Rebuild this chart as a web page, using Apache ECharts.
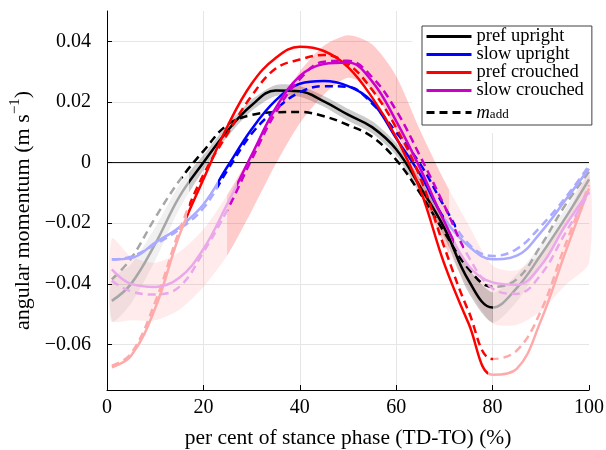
<!DOCTYPE html>
<html>
<head>
<meta charset="utf-8">
<script src="https://cdn.jsdelivr.net/npm/echarts@6/dist/echarts.min.js"></script>
<style>
html, body { margin: 0; padding: 0; background: #fff; }
#chart { width: 606px; height: 450px; }
</style>
</head>
<body>
<div id="chart"></div>
<script>
// per cent of stance phase (x of every curve)
const stance = [1, 5, 10, 15, 20, 25, 30, 35, 40, 45, 50, 55, 60, 65, 70, 75, 80, 85, 90, 95, 100]

// angular momentum (m/s), measured and m_add
const prefUpright = [-0.0456, -0.040, -0.0268, -0.0113, 0, 0.0105, 0.0189, 0.0238, 0.0235, 0.0202, 0.0158, 0.0117, 0.0044, -0.0081, -0.0216, -0.0388, -0.0478, -0.0414, -0.0305, -0.0185, -0.0055]
const prefUprightAdd = [-0.0385, -0.0316, -0.0182, -0.006, 0.0038, 0.0125, 0.0157, 0.0166, 0.0167, 0.0153, 0.0124, 0.0085, 0.0009, -0.0102, -0.023, -0.035, -0.041, -0.0385, -0.0274, -0.0142, -0.003]
const slowUpright = [-0.0319, -0.0315, -0.0264, -0.0213, -0.0138, -0.0013, 0.011, 0.0205, 0.026, 0.0269, 0.0252, 0.020, 0.008, -0.004, -0.0185, -0.0275, -0.0319, -0.0307, -0.023, -0.0126, -0.002]
const slowUprightAdd = [-0.032, -0.031, -0.027, -0.022, -0.015, -0.0025, 0.0095, 0.0175, 0.0232, 0.0252, 0.025, 0.0195, 0.010, -0.0005, -0.0145, -0.0268, -0.0308, -0.0285, -0.021, -0.0118, -0.001]
const prefCrouched = [-0.0675, -0.0637, -0.048, -0.024, -0.0055, 0.012, 0.026, 0.0345, 0.0382, 0.0368, 0.0315, 0.0215, 0.0083, -0.009, -0.0335, -0.053, -0.070, -0.068, -0.0522, -0.030, -0.0085]
const prefCrouchedAdd = [-0.067, -0.063, -0.046, -0.0225, -0.004, 0.0095, 0.022, 0.031, 0.034, 0.0355, 0.0325, 0.024, 0.0115, -0.005, -0.028, -0.049, -0.0648, -0.062, -0.049, -0.0275, -0.0075]
const slowCrouched = [-0.0352, -0.040, -0.041, -0.038, -0.0285, -0.0135, 0.0025, 0.018, 0.0285, 0.0325, 0.033, 0.0268, 0.0137, -0.002, -0.0195, -0.034, -0.0395, -0.0403, -0.034, -0.021, -0.0095]
const slowCrouchedAdd = [-0.039, -0.0425, -0.0435, -0.041, -0.0295, -0.0155, 0.001, 0.0165, 0.0275, 0.0333, 0.0336, 0.0282, 0.0172, 0.002, -0.0142, -0.031, -0.0415, -0.0433, -0.037, -0.0235, -0.010]

// spread bands (centre and half width)
const prefUprightSd = [0.007, 0.0065, 0.0055, 0.004, 0.0025, 0.002, 0.0018, 0.0018, 0.0018, 0.0018, 0.002, 0.002, 0.002, 0.0025, 0.003, 0.004, 0.005, 0.0045, 0.0035, 0.003, 0.0025]
const crouchBandMid = [-0.0385, -0.0415, -0.0425, -0.039, -0.0315, -0.0205, -0.0065, 0.0085, 0.0215, 0.0305, 0.035, 0.0315, 0.0195, 0.0005, -0.0165, -0.031, -0.0435, -0.0445, -0.0395, -0.0295, -0.0185]
const crouchBandSd = [0.0135, 0.0105, 0.0095, 0.0095, 0.0095, 0.010, 0.0095, 0.009, 0.0085, 0.008, 0.007, 0.0075, 0.009, 0.010, 0.0105, 0.0105, 0.0095, 0.009, 0.0095, 0.011, 0.0145]

// stance range drawn in full colour (outside it the curve is faded)
const prefUprightOn = [17, 80]
const prefUprightAddOn = [15.5, 81]
const slowUprightOn = [23, 70]
const slowUprightAddOn = [23, 72.5]
const prefCrouchedOn = [16.5, 79]
const prefCrouchedAddOn = [17, 80]
const slowCrouchedOn = [27, 72]
const slowCrouchedAddOn = [25, 74]
const greyBandOn = [17, 80]
const pinkBandOn = [25, 71]

const zeroLineX = [0, 100]
const yTicks = [-0.06, -0.04, -0.02, 0, 0.02, 0.04]
const legendNames = ['pref upright', 'slow upright', 'pref crouched', 'slow crouched', 'madd']

const FONT = 'Liberation Serif'
const DASH = [8, 5]

const pairs = ys => stance.map((x, i) => [x, ys[i]])

const series = []
const visualMap = []

function addCurve(name, ys, range, full, faded, dashed) {
  visualMap.push({
    type: 'piecewise', show: false, dimension: 0, seriesIndex: series.length,
    pieces: [
      { lt: range[0], color: faded },
      { gte: range[0], lte: range[1], color: full },
      { gt: range[1], color: faded },
    ],
  })
  series.push({
    name,
    type: 'line',
    data: pairs(ys),
    smooth: 0.4,
    symbol: 'none',
    lineStyle: { width: 2.5, type: dashed ? DASH : 'solid' },
  })
}

// band = polygon between mid-sd and mid+sd, darker inside range
function addBand(name, mid, sd, range, full, faded) {
  series.push({
    name,
    type: 'custom',
    silent: true,
    data: [0],
    renderItem: (params, api) => {
      const upper = stance.map((x, i) => api.coord([x, mid[i] + sd[i]]))
      const lower = stance.map((x, i) => api.coord([x, mid[i] - sd[i]])).reverse()
      const x0 = api.coord([0, 0])[0]
      const x1 = api.coord([100, 0])[0]
      const a = (api.coord([range[0], 0])[0] - x0) / (x1 - x0)
      const b = (api.coord([range[1], 0])[0] - x0) / (x1 - x0)
      const fill = new echarts.graphic.LinearGradient(x0, 0, x1, 0, [
        { offset: 0, color: faded },
        { offset: a, color: faded },
        { offset: a, color: full },
        { offset: b, color: full },
        { offset: b, color: faded },
        { offset: 1, color: faded },
      ], true)
      return {
        type: 'group',
        children: [
          { type: 'polyline', shape: { points: upper, smooth: 0.3 }, style: { stroke: null, fill: null } },
          { type: 'polygon', shape: { points: upper.concat(lower), smooth: 0.25 }, style: { fill } },
        ],
      }
    },
  })
}

series.push({
  name: 'zero',
  type: 'line',
  data: zeroLineX.map(x => [x, 0]),
  symbol: 'none',
  lineStyle: { color: '#000', width: 1 },
  silent: true,
})
addBand('grey', prefUpright, prefUprightSd, greyBandOn, 'rgba(0,0,0,0.2)', 'rgba(0,0,0,0.06)')
addBand('pink', crouchBandMid, crouchBandSd, pinkBandOn, 'rgba(255,0,0,0.2)', 'rgba(255,0,0,0.08)')

addCurve('pref upright', prefUpright, prefUprightOn, '#000000', '#a6a6a6', false)
addCurve('madd', prefUprightAdd, prefUprightAddOn, '#000000', '#a6a6a6', true)
addCurve('slow upright', slowUpright, slowUprightOn, '#0000ff', '#aaaaff', false)
addCurve('slow upright add', slowUprightAdd, slowUprightAddOn, '#0000ff', '#aaaaff', true)
addCurve('pref crouched', prefCrouched, prefCrouchedOn, '#ff0000', '#ffaaaa', false)
addCurve('pref crouched add', prefCrouchedAdd, prefCrouchedAddOn, '#ff0000', '#ffaaaa', true)
addCurve('slow crouched', slowCrouched, slowCrouchedOn, '#cc00cc', '#eaa8ea', false)
addCurve('slow crouched add', slowCrouchedAdd, slowCrouchedAddOn, '#cc00cc', '#eaa8ea', true)

const legendColors = ['#000000', '#0000ff', '#ff0000', '#cc00cc', '#000000']

const myChart = echarts.init(document.getElementById('chart'))
myChart.setOption({
  animation: false,
  grid: { left: 107, right: 17, top: 11, bottom: 60, outerBoundsMode: 'none', containLabel: false },
  graphic: [{
    type: 'rect', z: 1,
    shape: { x: 412, y: 0, width: 194, height: 133 },
    style: { fill: '#fff' },
  }],
  legend: {
    data: legendNames.map((n, i) => ({
      name: n,
      lineStyle: { color: legendColors[i], width: 3, type: n === 'madd' ? DASH : 'solid' },
      itemStyle: { opacity: 0 },
    })),
    orient: 'vertical',
    left: 422,
    top: 26,
    itemWidth: 45,
    itemHeight: 12,
    itemGap: -1,
    padding: [1, 8, 2, 3],
    backgroundColor: '#fff',
    borderColor: '#404040',
    borderWidth: 1,
    formatter: name => (name === 'madd' ? '{mi|m}{sub|add}' : name),
    textStyle: {
      fontFamily: FONT,
      fontSize: 18.5,
      color: '#000',
      rich: {
        mi: { fontFamily: FONT, fontStyle: 'italic', fontSize: 18.5, lineHeight: 17, verticalAlign: 'top' },
        sub: { fontFamily: FONT, fontSize: 13, lineHeight: 13, verticalAlign: 'bottom', padding: [9, 0, 0, 0] },
      },
    },
  },
  visualMap,
  xAxis: {
    type: 'value',
    min: 0,
    max: 100,
    interval: 20,
    name: 'per cent of stance phase (TD-TO) (%)',
    nameLocation: 'middle',
    nameGap: 37,
    nameTextStyle: { fontFamily: FONT, fontSize: 21.5, color: '#000' },
    axisLine: { onZero: false, lineStyle: { color: '#000', width: 1 } },
    axisTick: { inside: true, length: 5, lineStyle: { color: '#000' } },
    axisLabel: { fontFamily: FONT, fontSize: 20, color: '#000', margin: 8 },
    splitLine: { show: true, showMinLine: false, showMaxLine: false, lineStyle: { color: '#e6e6e6', width: 1 } },
  },
  yAxis: {
    type: 'value',
    min: -0.075,
    max: 0.05,
    name: '{t|angular momentum (m s}{sup|−1}{t|)}',
    nameLocation: 'middle',
    nameGap: 70,
    nameTextStyle: {
      padding: [0, 20, 0, 0],
      rich: {
        t: { fontFamily: FONT, fontSize: 22, lineHeight: 26, color: '#000', verticalAlign: 'bottom' },
        sup: { fontFamily: FONT, fontSize: 15, lineHeight: 15, color: '#000', verticalAlign: 'top' },
      },
    },
    axisLine: { show: true, onZero: false, lineStyle: { color: '#000', width: 1 } },
    axisTick: { show: true, inside: true, length: 5, customValues: yTicks, lineStyle: { color: '#000' } },
    axisLabel: {
      fontFamily: FONT, fontSize: 20, color: '#000', margin: 16,
      customValues: yTicks,
      formatter: v => (Math.abs(v) < 1e-9 ? '0' : (v < 0 ? '−' : '') + Math.abs(v).toFixed(2)),
    },
    splitLine: { show: true, lineStyle: { color: '#e6e6e6', width: 1 } },
  },
  series,
})
</script>
</body>
</html>
